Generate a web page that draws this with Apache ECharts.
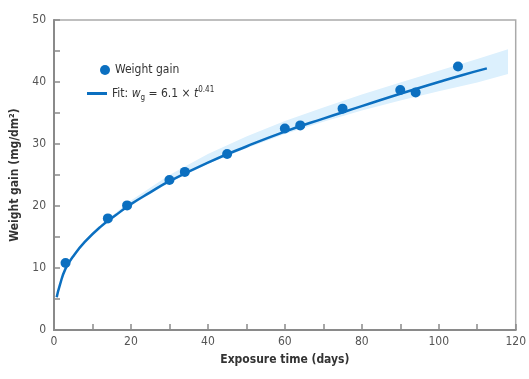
<!DOCTYPE html>
<html>
<head>
<meta charset="utf-8">
<script src="https://cdn.jsdelivr.net/npm/echarts@6/dist/echarts.min.js"></script>
<style>
  html, body { margin: 0; padding: 0; background: #fff; }
  #chart { width: 529px; height: 379px; }
</style>
</head>
<body>
<div id="chart"></div>
<script>
  // measured weight gain (days, mg/dm2)
  const obsDays = [3, 14, 19, 30, 34, 45, 60, 64, 75, 90, 94, 105];
  const obsGain = [10.8, 18.0, 20.1, 24.2, 25.5, 28.4, 32.5, 33.0, 35.7, 38.7, 38.3, 42.5];

  // fitted curve
  const fitDays = [0.7, 1.5, 3, 5, 8, 12, 16, 20, 25, 30, 40, 50, 60, 70, 80, 90, 100, 106, 112.5];
  const fitGain = [5.3, 7.2, 9.9, 11.9, 14.2, 16.6, 18.5, 20.3, 22.2, 24.0, 27.0, 29.6, 32.0, 34.1, 36.1, 38.1, 40.0, 41.1, 42.2];

  // confidence band around the fit
  const bandDays = [12, 20, 30, 40, 50, 60, 70, 80, 90, 100, 110, 118];
  const bandLow = [16.5, 20.1, 23.8, 26.8, 29.3, 31.6, 33.6, 35.4, 37.0, 38.5, 39.9, 41.3];
  const bandHigh = [16.9, 20.9, 25.0, 28.4, 31.2, 33.7, 35.9, 38.0, 39.9, 41.8, 43.7, 45.3];

  const chart = echarts.init(document.getElementById("chart"));
  const blue = "#0b6fc0";
  const axisGrey = "#8a8a8a";
  const font = "'DejaVu Sans Condensed', 'Liberation Sans Narrow', 'Liberation Sans', sans-serif";

  const pairs = (xs, ys) => xs.map((x, i) => [x, ys[i]]);

  // band drawn as one polygon through the axis scales
  function renderBand(params, api) {
    if (params.dataIndex !== 0) return null;
    const upper = bandDays.map((d, i) => api.coord([d, bandHigh[i]]));
    const lower = bandDays.map((d, i) => api.coord([d, bandLow[i]])).reverse();
    return {
      type: "polygon",
      shape: { points: upper.concat(lower) },
      style: { fill: "#dcf0fd" },
      silent: true,
    };
  }

  chart.setOption({
    animation: false,
    textStyle: { fontFamily: font },
    grid: { left: 54, right: 12, top: 20, bottom: 49, show: true, borderColor: "#aaa", borderWidth: 1.5 },
    legend: [
      {
        data: ["Weight gain"], left: 95, top: 59, itemWidth: 10, itemHeight: 10, itemGap: 6,
        textStyle: { fontFamily: font, fontSize: 12, color: "#333" },
      },
      {
        data: [{ name: "Fit", icon: "rect" }], left: 82, top: 81, itemWidth: 20, itemHeight: 3, itemGap: 6,
        formatter: () => "Fit: {i|w}{sub|g} = 6.1 × {i|t}{sup|0.41}",
        textStyle: {
          fontFamily: font, fontSize: 12, color: "#333",
          rich: {
            i: { fontFamily: font, fontSize: 12, fontStyle: "italic", color: "#333" },
            sub: { fontFamily: font, fontSize: 8, color: "#333", padding: [8, 0, 0, 0] },
            sup: { fontFamily: font, fontSize: 8, color: "#333", padding: [0, 0, 7, 0] },
          },
        },
      },
    ],
    xAxis: {
      type: "value", min: 0, max: 120, interval: 10,
      name: "Exposure time (days)", nameLocation: "middle", nameGap: 24,
      nameTextStyle: { fontFamily: font, fontSize: 12, fontWeight: "bold", color: "#333" },
      axisLine: { lineStyle: { color: axisGrey, width: 2 } },
      axisTick: { inside: true, length: 6, lineStyle: { color: axisGrey, width: 1.5 } },
      axisLabel: { color: "#555", fontSize: 12, margin: 6, formatter: v => (v % 20 === 0 ? String(v) : "") },
      splitLine: { show: false },
    },
    yAxis: {
      type: "value", min: 0, max: 50, interval: 5,
      name: "Weight gain (mg/dm²)", nameLocation: "middle", nameGap: 30,
      nameTextStyle: { fontFamily: font, fontSize: 12, fontWeight: "bold", color: "#333" },
      axisLine: { show: true, lineStyle: { color: axisGrey, width: 2 } },
      axisTick: { show: true, inside: true, length: 6, lineStyle: { color: axisGrey, width: 1.5 } },
      axisLabel: { color: "#555", fontSize: 12, margin: 8, formatter: v => (v % 10 === 0 ? String(v) : "") },
      splitLine: { show: false },
    },
    series: [
      {
        name: "band", type: "custom", renderItem: renderBand,
        data: pairs(bandDays, bandHigh), silent: true, z: 1,
      },
      {
        name: "Fit", type: "line", data: pairs(fitDays, fitGain), smooth: true, showSymbol: false,
        lineStyle: { color: blue, width: 2.5 }, itemStyle: { color: blue }, z: 3,
      },
      {
        name: "Weight gain", type: "scatter", data: pairs(obsDays, obsGain), symbolSize: 10,
        itemStyle: { color: blue, opacity: 1 }, z: 4,
      },
    ],
  });
</script>
</body>
</html>
